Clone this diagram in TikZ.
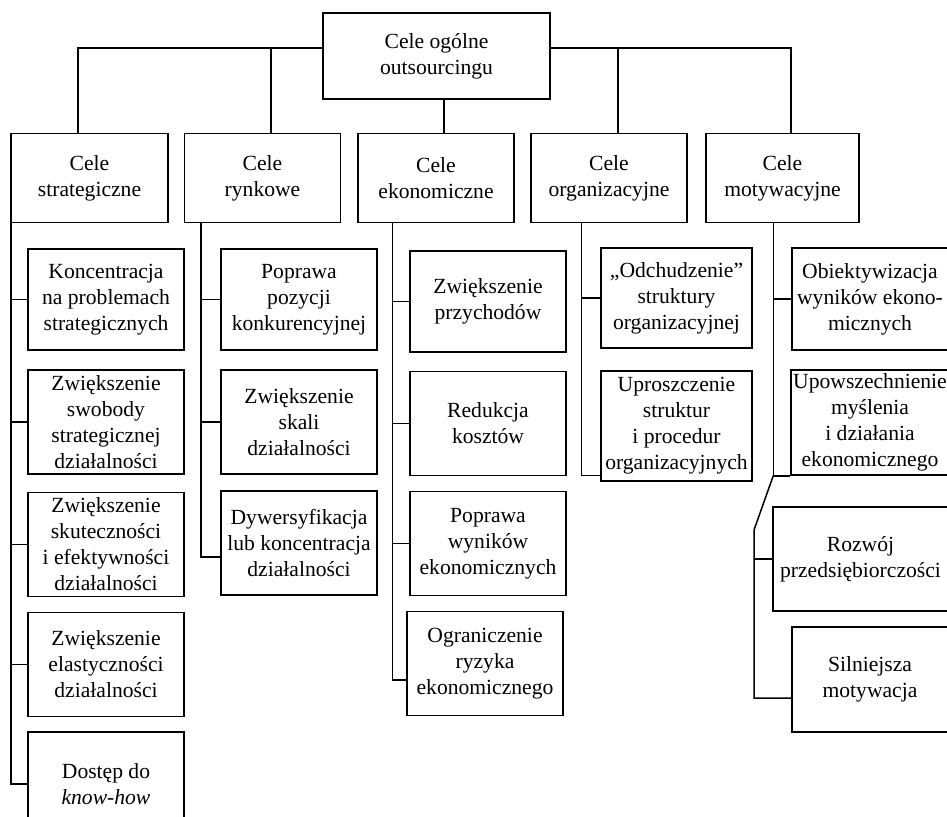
\documentclass[tikz,border=0pt]{standalone}
\usepackage{fontspec}
\setmainfont{Liberation Serif}
\usepackage{tikz}
\usetikzlibrary{positioning,calc}

\begin{document}
\begin{tikzpicture}[
  x=0.5pt, y=-0.5pt,
  every node/.style={font=\fontsize{10.8}{13}\selectfont, align=center, inner sep=1pt},
  glowny/.style={rectangle, draw, line width=0.75pt, minimum width=113.5pt, minimum height=43pt},
  grupa/.style={rectangle, draw, line width=0.75pt, minimum width=78pt, minimum height=44.5pt},
  cel/.style={rectangle, draw, line width=0.75pt, minimum width=78pt, minimum height=52pt},
  lin/.style={line width=0.75pt}
]
  \useasboundingbox (0,0) rectangle (947,816);

  % poziom 0 i 1
  \node[glowny] (top) at (436.5,56) {Cele ogólne\\outsourcingu};

  \node[grupa, minimum width=78.5pt] (strat) at (89.5,178) {Cele\\strategiczne};
  \node[grupa] (ryn) at (262.5,178) {Cele\\rynkowe};
  \node[grupa] (eko) at (436,178) {Cele\\ekonomiczne};
  \node[grupa] (org) at (609,178) {Cele\\organizacyjne};
  \node[grupa, minimum width=76.5pt] (mot) at (782.5,178) {Cele\\motywacyjne};

  % cele strategiczne
  \node[cel, minimum height=50.5pt] (k1) at (106,299.5) {Koncentracja\\na problemach\\strategicznych};
  \node[cel] (k2) at (106,422) {Zwiększenie\\swobody\\strategicznej\\działalności};
  \node[cel] (k3) at (106,544.5) {Zwiększenie\\skuteczności\\i efektywności\\działalności};
  \node[cel] (k4) at (106,664.5) {Zwiększenie\\elastyczności\\działalności};
  \node[cel] (k5) at (106,784) {Dostęp do\\\textit{know-how}};

  % cele rynkowe
  \node[cel, minimum height=50.5pt] (r1) at (299,299.5) {Poprawa\\pozycji\\konkurencyjnej};
  \node[cel] (r2) at (299,422) {Zwiększenie\\skali\\działalności};
  \node[cel] (r3) at (299,543) {Dywersyfikacja\\lub koncentracja\\działalności};

  % cele ekonomiczne
  \node[cel, minimum height=50.5pt] (e1) at (488,301.5) {Zwiększenie\\przychodów};
  \node[cel] (e2) at (488,423.5) {Redukcja\\kosztów};
  \node[cel] (e3) at (488,543.5) {Poprawa\\wyników\\ekonomicznych};
  \node[cel] (e4) at (485,663.5) {Ograniczenie\\ryzyka\\ekonomicznego};

  % cele organizacyjne
  \node[cel, minimum width=75.5pt, minimum height=50pt] (o1) at (676.5,298) {„Odchudzenie”\\struktury\\organizacyjnej};
  \node[cel, minimum width=75.5pt, minimum height=55pt] (o2) at (676.5,426) {Uproszczenie\\struktur\\i procedur\\organizacyjnych};

  % cele motywacyjne
  \node[cel, minimum height=51pt] (m1) at (870,299) {Obiektywizacja\\wyników ekono-\\micznych};
  \node[cel, minimum height=52.5pt] (m2) at (870,422.5) {Upowszechnienie\\myślenia\\i działania\\ekonomicznego};
  \node[cel, minimum width=87.5pt] (m3) at (860.5,559) {Rozwój\\przedsiębiorczości};
  \node[cel, minimum height=52.5pt] (m4) at (870,679.5) {Silniejsza\\motywacja};

  % polaczenia gorne
  \draw[lin] ([yshift=4pt]top.west) -| ([xshift=-5.75pt]strat.north);
  \draw[lin] ([xshift=4.25pt]ryn.north) |- ([yshift=4pt]top.west);
  \draw[lin] ([yshift=4pt]top.east) -| ([xshift=4.25pt]mot.north);
  \draw[lin] ([xshift=4.5pt]org.north) |- ([yshift=4pt]top.east);
  \coordinate (tdrop) at ([xshift=3.75pt]top.south);
  \draw[lin] (tdrop) -- (tdrop |- eko.north);

  % pnie kolumn
  \coordinate (stop) at ([xshift=0.25pt]strat.south west);
  \coordinate (rtop) at ([xshift=8.5pt]ryn.south west);
  \coordinate (etop) at ([xshift=17.5pt]eko.south west);
  \coordinate (otop) at ([xshift=25.5pt]org.south west);
  \coordinate (mtop) at ([xshift=34pt]mot.south west);

  \draw[lin] (stop) |- (k5.west);
  \foreach \n in {k1,k2,k3,k4}
    \draw[lin] (\n.west) -- (\n.west -| stop);

  \draw[lin] (rtop) |- ([yshift=-7pt]r3.west);
  \foreach \n in {r1,r2}
    \draw[lin] (\n.west) -- (\n.west -| rtop);

  \draw[lin] (etop) |- ([yshift=-8.25pt]e4.west);
  \foreach \n in {e1,e2,e3}
    \draw[lin] (\n.west) -- (\n.west -| etop);

  \draw[lin] (otop) |- ([yshift=-24.75pt]o2.west);
  \draw[lin] (o1.west) -- (o1.west -| otop);

  \coordinate (mbend) at (754,530);
  \draw[lin] (mtop) |- (m2.south west);
  \draw[lin] (m1.west) -- (m1.west -| mtop);
  \draw[lin] (m2.south west -| mtop) -- (mbend) |- ([yshift=-9.25pt]m4.west);
  \draw[lin] (m3.west) -- (m3.west -| mbend);
\end{tikzpicture}
\end{document}
